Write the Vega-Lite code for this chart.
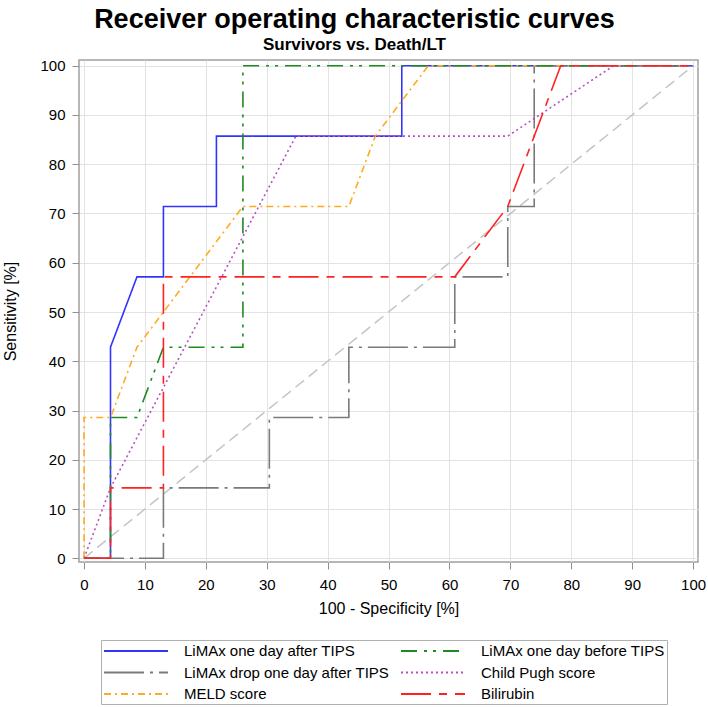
{
  "$schema": "https://vega.github.io/schema/vega-lite/v6.json",
  "width": 619,
  "height": 502,
  "autosize": {"type": "none"},
  "padding": {"left": 79, "top": 60, "right": 10, "bottom": 145},
  "background": "white",
  "title": {
    "text": "Receiver operating characteristic curves",
    "subtitle": "Survivors vs. Death/LT",
    "anchor": "middle",
    "dx": -34,
    "offset": 5,
    "font": "Liberation Sans",
    "fontSize": 27,
    "fontWeight": "bold",
    "color": "black",
    "subtitleFont": "Liberation Sans",
    "subtitleFontSize": 17,
    "subtitleFontWeight": "bold",
    "subtitleColor": "black",
    "subtitlePadding": 3
  },
  "config": {
    "view": {"stroke": "#a0a0a0", "strokeWidth": 1.5},
    "axis": {
      "labelFont": "Liberation Sans",
      "labelFontSize": 15,
      "labelColor": "black",
      "titleFont": "Liberation Sans",
      "titleFontSize": 16,
      "titleFontWeight": "normal",
      "titleColor": "black",
      "gridColor": "#e3e3e3",
      "gridWidth": 1,
      "tickColor": "#909090",
      "tickSize": 7,
      "domain": false
    },
    "legend": {
      "labelFont": "Liberation Sans",
      "labelFontSize": 15,
      "labelColor": "black"
    }
  },
  "datasets": {
    "roc": [
      {"s": "LiMAx one day after TIPS", "i": 0, "x": 0, "y": 0},
      {"s": "LiMAx one day after TIPS", "i": 1, "x": 4.35, "y": 0},
      {"s": "LiMAx one day after TIPS", "i": 2, "x": 4.35, "y": 42.86},
      {"s": "LiMAx one day after TIPS", "i": 3, "x": 8.7, "y": 57.14},
      {"s": "LiMAx one day after TIPS", "i": 4, "x": 13.04, "y": 57.14},
      {"s": "LiMAx one day after TIPS", "i": 5, "x": 13.04, "y": 71.43},
      {"s": "LiMAx one day after TIPS", "i": 6, "x": 21.74, "y": 71.43},
      {"s": "LiMAx one day after TIPS", "i": 7, "x": 21.74, "y": 85.71},
      {"s": "LiMAx one day after TIPS", "i": 8, "x": 52.17, "y": 85.71},
      {"s": "LiMAx one day after TIPS", "i": 9, "x": 52.17, "y": 100},
      {"s": "LiMAx one day after TIPS", "i": 10, "x": 100, "y": 100},

      {"s": "LiMAx drop one day after TIPS", "i": 0, "x": 0, "y": 0},
      {"s": "LiMAx drop one day after TIPS", "i": 1, "x": 13.04, "y": 0},
      {"s": "LiMAx drop one day after TIPS", "i": 2, "x": 13.04, "y": 14.29},
      {"s": "LiMAx drop one day after TIPS", "i": 3, "x": 30.43, "y": 14.29},
      {"s": "LiMAx drop one day after TIPS", "i": 4, "x": 30.43, "y": 28.57},
      {"s": "LiMAx drop one day after TIPS", "i": 5, "x": 43.48, "y": 28.57},
      {"s": "LiMAx drop one day after TIPS", "i": 6, "x": 43.48, "y": 42.86},
      {"s": "LiMAx drop one day after TIPS", "i": 7, "x": 60.87, "y": 42.86},
      {"s": "LiMAx drop one day after TIPS", "i": 8, "x": 60.87, "y": 57.14},
      {"s": "LiMAx drop one day after TIPS", "i": 9, "x": 69.57, "y": 57.14},
      {"s": "LiMAx drop one day after TIPS", "i": 10, "x": 69.57, "y": 71.43},
      {"s": "LiMAx drop one day after TIPS", "i": 11, "x": 73.91, "y": 71.43},
      {"s": "LiMAx drop one day after TIPS", "i": 12, "x": 73.91, "y": 100},
      {"s": "LiMAx drop one day after TIPS", "i": 13, "x": 100, "y": 100},

      {"s": "MELD score", "i": 0, "x": 0, "y": 0},
      {"s": "MELD score", "i": 1, "x": 0, "y": 28.57},
      {"s": "MELD score", "i": 2, "x": 4.35, "y": 28.57},
      {"s": "MELD score", "i": 3, "x": 8.7, "y": 42.86},
      {"s": "MELD score", "i": 4, "x": 26.09, "y": 71.43},
      {"s": "MELD score", "i": 5, "x": 43.48, "y": 71.43},
      {"s": "MELD score", "i": 6, "x": 47.83, "y": 85.71},
      {"s": "MELD score", "i": 7, "x": 56.52, "y": 100},
      {"s": "MELD score", "i": 8, "x": 100, "y": 100},

      {"s": "LiMAx one day before TIPS", "i": 0, "x": 0, "y": 0},
      {"s": "LiMAx one day before TIPS", "i": 1, "x": 4.35, "y": 0},
      {"s": "LiMAx one day before TIPS", "i": 2, "x": 4.35, "y": 28.57},
      {"s": "LiMAx one day before TIPS", "i": 3, "x": 8.7, "y": 28.57},
      {"s": "LiMAx one day before TIPS", "i": 4, "x": 13.04, "y": 42.86},
      {"s": "LiMAx one day before TIPS", "i": 5, "x": 26.09, "y": 42.86},
      {"s": "LiMAx one day before TIPS", "i": 6, "x": 26.09, "y": 100},
      {"s": "LiMAx one day before TIPS", "i": 7, "x": 100, "y": 100},

      {"s": "Child Pugh score", "i": 0, "x": 0, "y": 0},
      {"s": "Child Pugh score", "i": 1, "x": 4.35, "y": 14.29},
      {"s": "Child Pugh score", "i": 2, "x": 34.78, "y": 85.71},
      {"s": "Child Pugh score", "i": 3, "x": 69.57, "y": 85.71},
      {"s": "Child Pugh score", "i": 4, "x": 86.96, "y": 100},
      {"s": "Child Pugh score", "i": 5, "x": 100, "y": 100},

      {"s": "Bilirubin", "i": 0, "x": 0, "y": 0},
      {"s": "Bilirubin", "i": 1, "x": 4.35, "y": 0},
      {"s": "Bilirubin", "i": 2, "x": 4.35, "y": 14.29},
      {"s": "Bilirubin", "i": 3, "x": 13.04, "y": 14.29},
      {"s": "Bilirubin", "i": 4, "x": 13.04, "y": 57.14},
      {"s": "Bilirubin", "i": 5, "x": 60.87, "y": 57.14},
      {"s": "Bilirubin", "i": 6, "x": 69.57, "y": 71.43},
      {"s": "Bilirubin", "i": 7, "x": 78.26, "y": 100},
      {"s": "Bilirubin", "i": 8, "x": 100, "y": 100}
    ],
    "ref": [
      {"x": 0, "y": 0},
      {"x": 100, "y": 100}
    ]
  },
  "layer": [
    {
      "data": {"name": "ref"},
      "mark": {"type": "line", "color": "#c4c4c4", "strokeWidth": 1.5, "strokeDash": [11, 6]},
      "encoding": {
        "x": {"field": "x", "type": "quantitative"},
        "y": {"field": "y", "type": "quantitative"}
      }
    },
    {
      "data": {"name": "roc"},
      "mark": {"type": "line", "strokeWidth": 1.6, "strokeJoin": "miter", "strokeCap": "butt"},
      "encoding": {
        "x": {
          "field": "x", "type": "quantitative",
          "scale": {"domain": [-0.82, 100.8], "nice": false, "zero": false},
          "axis": {"values": [0, 10, 20, 30, 40, 50, 60, 70, 80, 90, 100], "title": "100 - Specificity [%]", "labelPadding": 8, "titlePadding": 8, "labelFlush": false}
        },
        "y": {
          "field": "y", "type": "quantitative",
          "scale": {"domain": [-0.75, 101.16], "nice": false, "zero": false},
          "axis": {"values": [0, 10, 20, 30, 40, 50, 60, 70, 80, 90, 100], "title": "Sensitivity [%]", "labelPadding": 7, "titlePadding": 21, "labelFlush": false}
        },
        "order": {"field": "i", "type": "quantitative"},
        "color": {
          "field": "s", "type": "nominal",
          "scale": {
            "domain": ["LiMAx one day after TIPS", "LiMAx drop one day after TIPS", "MELD score", "LiMAx one day before TIPS", "Child Pugh score", "Bilirubin"],
            "range": ["#3333ff", "#7a7a7a", "#ffaa22", "#1f8a1f", "#b84fc4", "#ff2222"]
          },
          "legend": {
            "title": null,
            "orient": "none",
            "legendX": 22,
            "legendY": 580,
            "columns": 2,
            "columnPadding": 7,
            "rowPadding": 4.5,
            "padding": 2,
            "strokeColor": "#b0b0b0",
            "symbolType": "M-1,0H7",
            "symbolSize": 256,
            "symbolStrokeWidth": 1.8,
            "labelOffset": 63,
            "labelAlign": "left",
            "labelLimit": 400
          }
        },
        "strokeDash": {
          "field": "s", "type": "nominal",
          "scale": {
            "domain": ["LiMAx one day after TIPS", "LiMAx drop one day after TIPS", "MELD score", "LiMAx one day before TIPS", "Child Pugh score", "Bilirubin"],
            "range": [[1, 0], [40, 6, 3, 6], [7, 4, 2, 4], [16, 7, 3, 6, 3, 7], [2, 3], [30, 8, 8, 8]]
          },
          "legend": null
        }
      }
    }
  ]
}
